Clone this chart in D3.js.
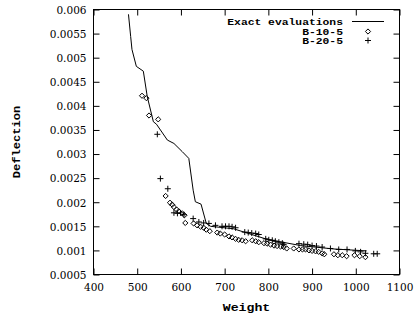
<!DOCTYPE html>
<html>
<head>
<meta charset="utf-8">
<script src="https://cdn.jsdelivr.net/npm/d3@7"></script>
<style>
  html, body { margin: 0; padding: 0; background: #fff; }
  svg { display: block; }
</style>
</head>
<body>
<svg id="chart" width="418" height="322"></svg>
<script>
// ---- data ----
const xTicks = [400, 500, 600, 700, 800, 900, 1000, 1100];
const yTicks = [0.0005, 0.001, 0.0015, 0.002, 0.0025, 0.003, 0.0035, 0.004, 0.0045, 0.005, 0.0055, 0.006];
const yTickLabels = ["0.0005", "0.001", "0.0015", "0.002", "0.0025", "0.003", "0.0035", "0.004", "0.0045", "0.005", "0.0055", "0.006"];

const exactW = [480, 485, 488, 498, 514, 523, 537, 544, 569, 584, 603, 618, 628, 633, 646, 658, 668, 720, 797, 874, 949, 1025];
const exactD = [0.0059, 0.00544, 0.00517, 0.00482, 0.00472, 0.00419, 0.00367, 0.00362, 0.00329, 0.00322, 0.00305, 0.00291, 0.00225, 0.00201, 0.00196, 0.00156, 0.0015, 0.00145, 0.00123, 0.0011, 0.00103, 0.00099];

const b10W = [511, 521, 527, 548, 565, 575, 580, 584, 590, 595, 603, 608, 610, 629, 637, 645, 652, 658, 666, 683, 690, 700, 710, 717, 725, 732, 740, 748, 763, 771, 778, 790, 797, 805, 813, 820, 828, 835, 842, 858, 870, 878, 885, 893, 900, 908, 915, 923, 928, 950, 959, 969, 979, 997, 1009, 1022];
const b10D = [0.00421, 0.00416, 0.0038, 0.00372, 0.00213, 0.00199, 0.00195, 0.0019, 0.00185, 0.00181, 0.00177, 0.00173, 0.00157, 0.00156, 0.00152, 0.00149, 0.00147, 0.00143, 0.0014, 0.00137, 0.00135, 0.00133, 0.00129, 0.00127, 0.00124, 0.00122, 0.00121, 0.00119, 0.00121, 0.00119, 0.00117, 0.00115, 0.00114, 0.00112, 0.0011, 0.00109, 0.00108, 0.00107, 0.00104, 0.00104, 0.00102, 0.00102, 0.00102, 0.001, 0.00099, 0.00098, 0.00097, 0.00094, 0.00092, 0.00092, 0.0009, 0.0009, 0.00088, 0.0009, 0.00088, 0.00086];

const b20W = [546, 553, 570, 584, 592, 599, 607, 628, 641, 652, 664, 679, 694, 702, 710, 717, 725, 746, 754, 762, 771, 778, 794, 801, 809, 816, 824, 832, 835, 870, 881, 890, 900, 910, 923, 942, 961, 980, 999, 1011, 1022, 1041, 1049];
const b20D = [0.00341, 0.00249, 0.00228, 0.00178, 0.00177, 0.00178, 0.00174, 0.00166, 0.00159, 0.00157, 0.00156, 0.00152, 0.0015, 0.0015, 0.0015, 0.00149, 0.00147, 0.00138, 0.00137, 0.00136, 0.00135, 0.00133, 0.00124, 0.00122, 0.00121, 0.00119, 0.00117, 0.00115, 0.00112, 0.00114, 0.00113, 0.00112, 0.0011, 0.00109, 0.00107, 0.00104, 0.00102, 0.00102, 0.00099, 0.00097, 0.00094, 0.00093, 0.00093];

const legendLabels = ["Exact evaluations", "B-10-5", "B-20-5"];

// ---- layout ----
const L = 93.5, R = 399.5, T = 9.5, B = 274.5;
const svg = d3.select("#chart");
const x = d3.scaleLinear().domain([400, 1100]).range([L, R]);
const y = d3.scaleLinear().domain([0.0005, 0.006]).range([B, T]);

const tickFont = "'DejaVu Serif', 'Liberation Serif', serif";
const monoFont = "'Liberation Mono', 'DejaVu Sans Mono', monospace";

function stretch(sel, factor) {
  sel.each(function () {
    const w = this.getComputedTextLength();
    d3.select(this).attr("textLength", w * factor).attr("lengthAdjust", "spacingAndGlyphs");
  });
}

// axes
const gx = svg.append("g").attr("transform", `translate(0,${B})`)
  .call(d3.axisBottom(x).tickValues(xTicks).tickSizeInner(-6).tickSizeOuter(0).tickPadding(9).tickFormat(d3.format("d")));
const gy = svg.append("g").attr("transform", `translate(${L},0)`)
  .call(d3.axisLeft(y).tickValues(yTicks).tickSizeInner(-6).tickSizeOuter(0).tickPadding(7)
    .tickFormat((d, i) => yTickLabels[i]));
const gt = svg.append("g").attr("transform", `translate(0,${T})`)
  .call(d3.axisTop(x).tickValues(xTicks).tickSizeInner(-6).tickSizeOuter(0).tickFormat(""));
const gr = svg.append("g").attr("transform", `translate(${R},0)`)
  .call(d3.axisRight(y).tickValues(yTicks).tickSizeInner(-6).tickSizeOuter(0).tickFormat(""));

[gx, gy, gt, gr].forEach(g => {
  g.attr("font-family", null).attr("font-size", null);
  g.select(".domain").remove();
  g.selectAll("line").attr("stroke", "#000").attr("stroke-width", 1);
  g.selectAll("text").attr("fill", "#000")
    .style("font-family", tickFont).style("font-size", "10.5px");
});
gy.selectAll("text").attr("dy", "0.36em");

// frame
svg.append("rect").attr("x", L).attr("y", T).attr("width", R - L).attr("height", B - T)
  .attr("fill", "none").attr("stroke", "#000").attr("stroke-width", 1);

// axis titles
const xt = svg.append("text").attr("x", (L + R) / 2).attr("y", 311).attr("text-anchor", "middle")
  .style("font-family", monoFont).style("font-weight", "bold").style("font-size", "11px").text("Weight");
stretch(xt, 1.2);
const yt = svg.append("text").attr("transform", `translate(20,${(T + B) / 2}) rotate(-90)`).attr("text-anchor", "middle")
  .style("font-family", monoFont).style("font-weight", "bold").style("font-size", "11px").text("Deflection");
stretch(yt, 1.1);

// exact line
const exact = exactW.map((w, i) => [w, exactD[i]]);
svg.append("path").datum(exact)
  .attr("d", d3.line().x(d => x(d[0])).y(d => y(d[1])))
  .attr("fill", "none").attr("stroke", "#000").attr("stroke-width", 1);

// markers
const diamond = (cx, cy, s) => `M${cx},${cy - s}L${cx + s},${cy}L${cx},${cy + s}L${cx - s},${cy}Z`;
const plus = (cx, cy, s) => `M${cx - s},${cy}H${cx + s}M${cx},${cy - s}V${cy + s}`;

svg.append("g").selectAll("path").data(b10W.map((w, i) => [w, b10D[i]])).join("path")
  .attr("d", d => diamond(x(d[0]), y(d[1]), 2.6))
  .attr("fill", "none").attr("stroke", "#000").attr("stroke-width", 1);
svg.append("g").selectAll("path").data(b20W.map((w, i) => [w, b20D[i]])).join("path")
  .attr("d", d => plus(x(d[0]), y(d[1]), 3))
  .attr("fill", "none").attr("stroke", "#000").attr("stroke-width", 1);

// legend
const legY = [21.5, 31.5, 40.5];
const lg = svg.append("g");
legendLabels.forEach((lab, i) => {
  const t = lg.append("text").attr("x", 343).attr("y", legY[i] + 3.5).attr("text-anchor", "end")
    .style("font-family", monoFont).style("font-weight", "bold").style("font-size", "8.6px").text(lab);
  stretch(t, 1.32);
});
lg.append("line").attr("x1", 352).attr("x2", 384).attr("y1", legY[0]).attr("y2", legY[0]).attr("stroke", "#000");
lg.append("path").attr("d", diamond(368, legY[1], 2.6)).attr("fill", "none").attr("stroke", "#000");
lg.append("path").attr("d", plus(368, legY[2], 3)).attr("fill", "none").attr("stroke", "#000");
</script>
</body>
</html>
